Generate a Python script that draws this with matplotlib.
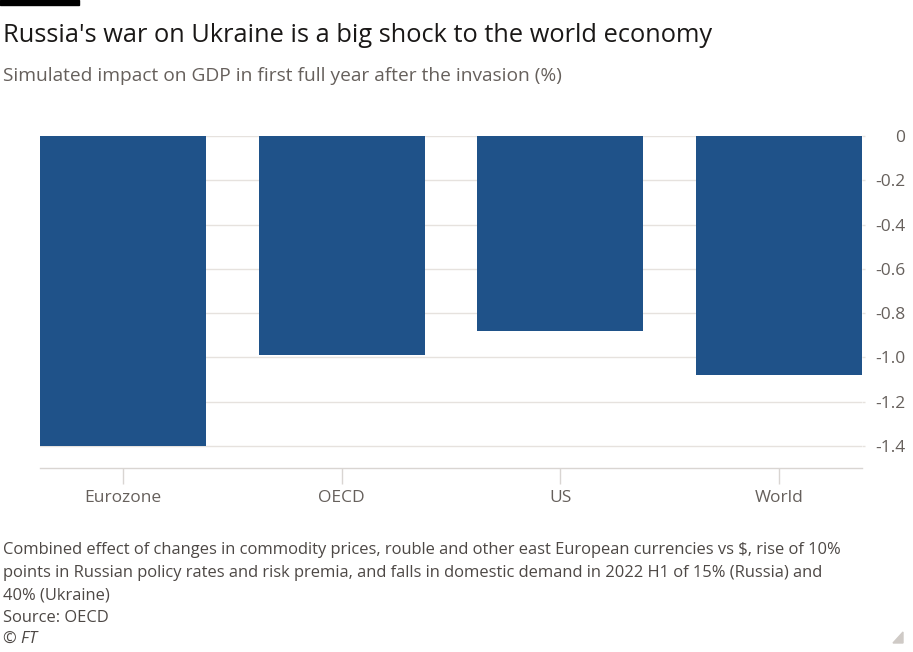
import matplotlib
matplotlib.use("Agg")
import matplotlib.pyplot as plt
from matplotlib.patches import Polygon, Rectangle

categories = ["Eurozone", "OECD", "US", "World"]
values = [-1.40, -0.99, -0.88, -1.08]
yticks = [0, -0.2, -0.4, -0.6, -0.8, -1.0, -1.2, -1.4]
ytick_labels = ["0", "-0.2", "-0.4", "-0.6", "-0.8", "-1.0", "-1.2", "-1.4"]

title = "Russia's war on Ukraine is a big shock to the world economy"
subtitle = "Simulated impact on GDP in first full year after the invasion (%)"
note_lines = [
    "Combined effect of changes in commodity prices, rouble and other east European currencies vs $, rise of 10%",
    "points in Russian policy rates and risk premia, and falls in domestic demand in 2022 H1 of 15% (Russia) and",
    "40% (Ukraine)",
]
source = "Source: OECD"
credit = "© FT"

W, H = 913, 652
plt.rcParams['font.family'] = ['Open Sans', 'DejaVu Sans']
fig = plt.figure(figsize=(W / 100, H / 100), dpi=100)
fig.patch.set_facecolor("white")

# axes: x from 40 to 862 px, y from 136 (0) to 468 (-1.5)
left, right = 40 / W, 862 / W
top, bottom = 136 / H, 468 / H
ax = fig.add_axes([left, 1 - bottom, right - left, bottom - top])

bar_color = "#1f5289"
ax.bar(range(len(categories)), values, width=0.76, color=bar_color, zorder=2)
ax.set_xlim(-0.38, len(categories) - 1 + 0.38)
ax.set_ylim(-1.5, 0)

ax.yaxis.tick_right()
ax.set_yticks(yticks)
ax.set_yticklabels(ytick_labels)
ax.tick_params(axis="y", length=2.5, width=1, color="#e6e2de", labelsize=12.5,
               labelcolor="#66605c", pad=28.5, right=True, left=False)
for lab in ax.get_yticklabels():
    lab.set_horizontalalignment("right")
ax.grid(axis="y", color="#e6e2de", linewidth=1, zorder=0)

ax.set_xticks(range(len(categories)))
ax.set_xticklabels(categories)
ax.tick_params(axis="x", length=11.5, width=1, color="#d9d5d2", labelsize=12.5,
               labelcolor="#66605c", pad=4)

for s in ["top", "left", "right"]:
    ax.spines[s].set_visible(False)
ax.spines["bottom"].set_color("#d9d5d2")
ax.spines["bottom"].set_linewidth(1)
ax.set_axisbelow(True)

# top black bar
fig.patches.append(Rectangle((0, 1 - 5 / H), 79 / W, 5 / H, transform=fig.transFigure,
                             color="black", zorder=5))

fig.text(3 / W, 1 - 35 / H, title, fontsize=18.3, color="#1a1817", va="center", ha="left")
fig.text(3 / W, 1 - 76 / H, subtitle, fontsize=13.8, color="#66605c", va="center", ha="left")

note_y = [550, 573, 595]
for yy, line in zip(note_y, note_lines):
    fig.text(3 / W, 1 - yy / H, line, fontsize=11.85, color="#4d4845", va="center", ha="left")
fig.text(3 / W, 1 - 618 / H, source, fontsize=11.85, color="#4d4845", va="center", ha="left")
fig.text(3 / W, 1 - 639 / H, credit, fontsize=11.85, color="#4d4845", va="center", ha="left",
         style="italic")

tri = Polygon([(903 / W, 1 - 643 / H), (903 / W, 1 - 632 / H), (893 / W, 1 - 643 / H)],
              closed=True, transform=fig.transFigure, color="#cfcac6")
fig.patches.append(tri)

fig.savefig("out.png", dpi=100, facecolor="white")
